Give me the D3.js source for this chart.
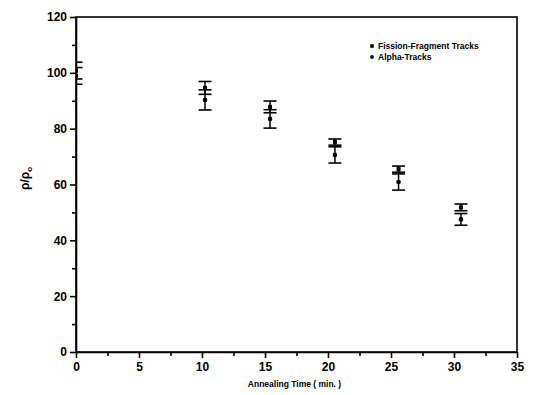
<!DOCTYPE html>
<meta charset="utf-8">
<style>
body { margin: 0; background: #fff; }
.tick text { font: bold 12px "Liberation Sans", Arial, sans-serif; fill: #000; }
.domain, .tick line { stroke: #000; stroke-width: 1.6px; }
</style>
<body>
<script src="https://d3js.org/d3.v7.min.js"></script>
<script>

// values
var times = [0, 10.24, 15.4, 20.55, 25.6, 30.55];
var fission = [100.8, 94.6, 87.8, 75.2, 65.5, 51.8];
var fissionErr = [3.0, 2.3, 2.1, 1.1, 1.1, 1.2];
var alpha = [98.9, 90.3, 83.5, 70.6, 60.9, 47.5];
var alphaErr = [3.0, 3.6, 3.3, 2.9, 2.9, 2.1];
var xTicks = [0, 5, 10, 15, 20, 25, 30, 35];
var yTicks = [0, 20, 40, 60, 80, 100, 120];
var legendNames = ["Fission-Fragment Tracks", "Alpha-Tracks"];

var margin = {top: 17, right: 17, bottom: 43, left: 76},
    width = 534 - margin.left - margin.right,
    height = 395 - margin.top - margin.bottom;

var svg = d3.select("body").append("svg")
    .attr("width", 534)
    .attr("height", 395)
  .append("g")
    .attr("transform", "translate(" + margin.left + "," + margin.top + ")");

var x = d3.scaleLinear().domain([0, 35]).range([0, width]);
var y = d3.scaleLinear().domain([0, 120]).range([height, 0]);

svg.append("clipPath").attr("id", "clip")
  .append("rect").attr("width", width).attr("height", height);

// minor ticks
svg.append("g")
    .attr("transform", "translate(0," + height + ")")
    .call(d3.axisBottom(x).tickValues(d3.range(2.5, 35, 5)).tickSize(4).tickFormat(""))
    .select(".domain").remove();
svg.append("g")
    .call(d3.axisLeft(y).tickValues(d3.range(10, 120, 20)).tickSize(4).tickFormat(""))
    .select(".domain").remove();

// major axes
svg.append("g")
    .attr("transform", "translate(0," + height + ")")
    .call(d3.axisBottom(x).tickValues(xTicks).tickSize(6).tickPadding(4).tickSizeOuter(0));
svg.append("g")
    .call(d3.axisLeft(y).tickValues(yTicks).tickSize(6).tickPadding(3).tickSizeOuter(0));

// frame
svg.append("rect")
    .attr("width", width).attr("height", height)
    .attr("fill", "none").attr("stroke", "#000").attr("stroke-width", 1.6);

var series = [
  {vals: fission, err: fissionErr, shape: "square"},
  {vals: alpha, err: alphaErr, shape: "circle"}
];

var plot = svg.append("g").attr("clip-path", "url(#clip)");
var cap = 6.5;

series.forEach(function(s) {
  var g = plot.append("g");
  times.forEach(function(t, i) {
    var cx = x(t), lo = y(s.vals[i] - s.err[i]), hi = y(s.vals[i] + s.err[i]);
    g.append("line").attr("x1", cx).attr("x2", cx).attr("y1", lo).attr("y2", hi)
      .attr("stroke", "#000").attr("stroke-width", 1.5);
    [lo, hi].forEach(function(yy) {
      g.append("line").attr("x1", cx - cap).attr("x2", cx + cap).attr("y1", yy).attr("y2", yy)
        .attr("stroke", "#000").attr("stroke-width", 1.6);
    });
    if (s.shape == "square") {
      g.append("rect").attr("x", cx - 2).attr("y", y(s.vals[i]) - 2)
        .attr("width", 4).attr("height", 4).attr("fill", "#000");
    } else {
      g.append("circle").attr("cx", cx).attr("cy", y(s.vals[i])).attr("r", 2.3).attr("fill", "#000");
    }
  });
});

// legend
var legend = svg.append("g").attr("transform", "translate(" + (372 - margin.left) + "," + (46 - margin.top) + ")");
legendNames.forEach(function(name, i) {
  var row = legend.append("g").attr("transform", "translate(0," + (i * 11) + ")");
  if (i == 0) row.append("rect").attr("x", -1.8).attr("y", -1.8).attr("width", 3.6).attr("height", 3.6);
  else row.append("circle").attr("r", 1.9);
  row.append("text").attr("x", 6).attr("y", 3)
    .style("font", "bold 8.5px 'Liberation Sans', Arial, sans-serif")
    .text(name);
});

// axis titles
svg.append("text")
    .attr("x", width / 2 - 2).attr("y", height + 35)
    .attr("text-anchor", "middle")
    .style("font", "bold 8.5px 'Liberation Sans', Arial, sans-serif")
    .text("Annealing Time ( min. )");

var yl = svg.append("text")
    .attr("transform", "translate(" + (-47) + "," + (height / 2 - 6) + ") rotate(-90)")
    .attr("text-anchor", "middle")
    .style("font", "bold 12px 'Liberation Sans', Arial, sans-serif");
yl.append("tspan").text("ρ/ρ");
yl.append("tspan").attr("dy", 3).style("font-size", "8px").text("o");

</script>
</body>
